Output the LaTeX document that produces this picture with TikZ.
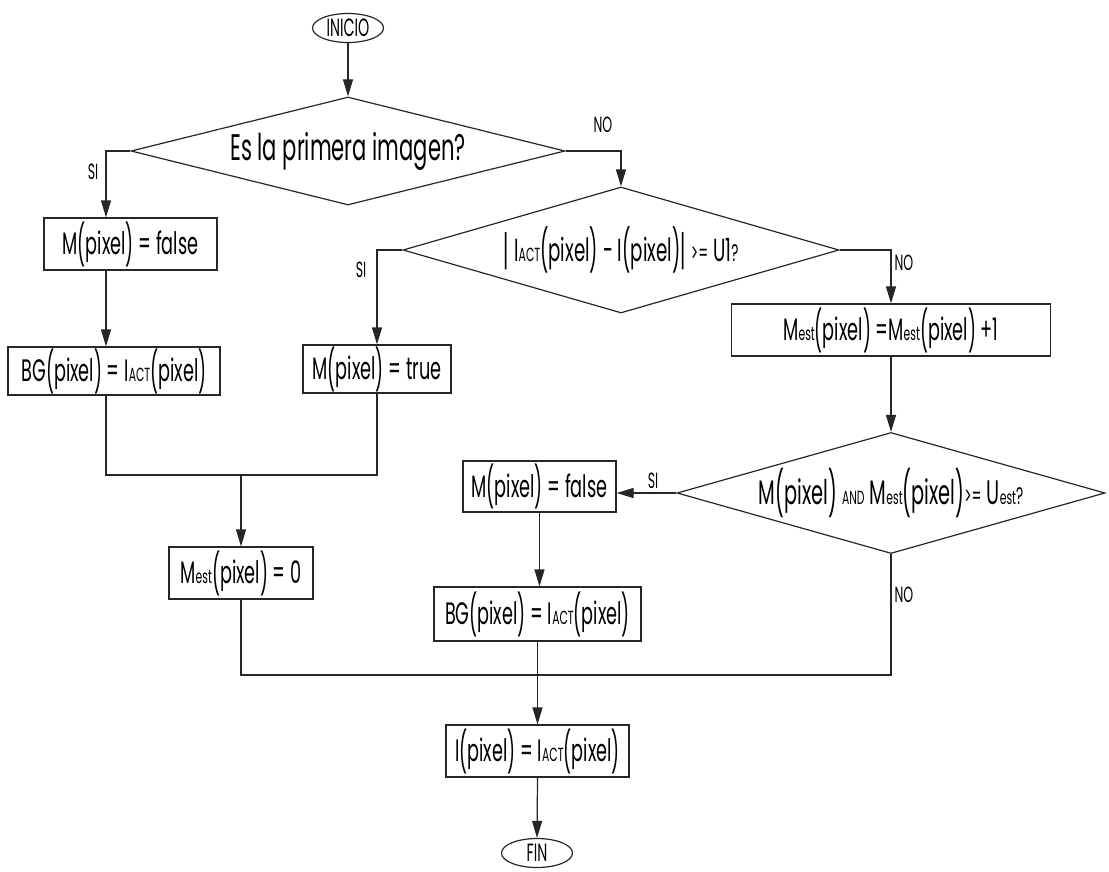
\documentclass[tikz,border=0pt]{standalone}
\usepackage{fontspec}
\usepackage{graphicx}
\usetikzlibrary{shapes.geometric,arrows.meta}
\newfontfamily\gfont[FakeStretch=0.57]{Poppins}
% small parts of the formulas (indices, AND, >=)
\newcommand\sm[1]{{\fontsize{19}{19}\selectfont #1}}
\newcommand\md[1]{{\fontsize{24}{24}\selectfont #1}}
% tall parentheses and bars
\newcommand\lpar{\raisebox{-0.14em}{\scalebox{1}[1.3]{(}}}
\newcommand\rpar{\raisebox{-0.14em}{\scalebox{1}[1.3]{)}}}
\newcommand\vbar{\raisebox{-0.14em}{\scalebox{1}[1.3]{|}}}
\newcommand\pix{\lpar pixel\rpar}
\newcommand\iact{I\sm{ACT}}
\newcommand\mest{M\sm{est}}
\tikzset{
  ln/.style={line width=1.2pt, draw=black!85},
  proc/.style={ln, rectangle, inner sep=0pt, font=\gfont\fontsize{31}{31}\selectfont},
  dec/.style={ln, diamond, aspect=4, inner sep=0pt, font=\gfont\fontsize{32}{32}\selectfont},
  term/.style={ln, ellipse, inner sep=0pt, minimum width=71pt, minimum height=29pt,
    font=\gfont\fontsize{25}{25}\selectfont},
  lbl/.style={inner sep=0pt, font=\gfont\fontsize{22}{22}\selectfont},
  flow/.style={ln, -{Triangle[length=17pt,width=10pt]}},
  link/.style={ln}
}
\begin{document}
\begin{tikzpicture}[x=1pt,y=-1pt]
\useasboundingbox[fill=white] (0,0) rectangle (1109,871);

% terminals
\node[term] (ini) at (348,28) {INICIO};
\node[term] (fin) at (537,853) {FIN};

% decisions
\node[dec, minimum width=434pt, minimum height=108pt, font=\gfont\fontsize{37}{37}\selectfont]
  (d1) at (348,151) {Es la primera imagen?};
\node[dec, minimum width=436pt, minimum height=126pt] (d2) at (621,250)
  {\vbar\,\iact\pix\ - I\pix\vbar\,\md{>=} U1\md{?}};
\node[dec, minimum width=428pt, minimum height=121pt, inner xsep=-60pt, inner ysep=-8pt,
  font=\gfont\fontsize{34}{34}\selectfont]
  (d3) at (891,493)
  {M\pix\ \sm{AND} \mest\pix\md{>=} U\sm{est}\md{?}};

% processes
\node[proc, minimum width=173pt, minimum height=52pt] (A) at (130.5,244) {M\pix\ = false};
\node[proc, minimum width=212pt, minimum height=48pt] (B) at (114,371) {BG\pix\ = \iact\pix};
\node[proc, minimum width=148pt, minimum height=48pt] (C) at (377,369) {M\pix\ = true};
\node[proc, minimum width=144pt, minimum height=52pt] (D) at (241,573) {\mest\pix\ = 0};
\node[proc, minimum width=319pt, minimum height=52pt] (E) at (891,330) {\mest\pix\ =\mest\pix\ +1};
\node[proc, minimum width=153pt, minimum height=51pt] (F) at (539.5,486.5) {M\pix\ = false};
\node[proc, minimum width=207pt, minimum height=54pt] (G) at (537.5,614) {BG\pix\ = \iact\pix};
\node[proc, minimum width=183pt, minimum height=52pt] (H) at (537.5,751) {I\pix\ = \iact\pix};

% helper points
\coordinate (colA) at (106,0);
\coordinate (m1) at (241,475);
\coordinate (m2) at (537.5,675);

% connectors
\draw[flow] (ini.south) -- (d1.north);
\draw[flow] (d1.west) -| (colA |- A.north);
\draw[flow] (d1.east) -| (d2.north);
\draw[flow] (colA |- A.south) -- (colA |- B.north);
\draw[flow] (d2.west) -| (C.north);
\draw[flow] (d2.east) -| (E.north);
\draw[flow] (E.south) -- (d3.north);
\draw[link] (colA |- B.south) |- (C.south |- m1) -- (C.south);
\draw[flow] (m1) -- (D.north);
\draw[flow] (d3.west) -- (F.east |- d3.west);
\draw[flow] (F.south) -- (F.south |- G.north);
\draw[link] (D.south) |- (d3.south |- m2) -- (d3.south);
\draw[flow] (G.south) -- (H.north);
\draw[flow] (H.south) -- (fin.north);

% branch labels
\node[lbl] (l1) at (93,172) {SI};
\node[lbl] (l2) at (603,125) {NO};
\node[lbl] (l3) at (361,270) {SI};
\node[lbl] (l4) at (904,263) {NO};
\node[lbl] (l5) at (653,481) {SI};
\node[lbl] (l6) at (904,595) {NO};
\end{tikzpicture}
\end{document}
